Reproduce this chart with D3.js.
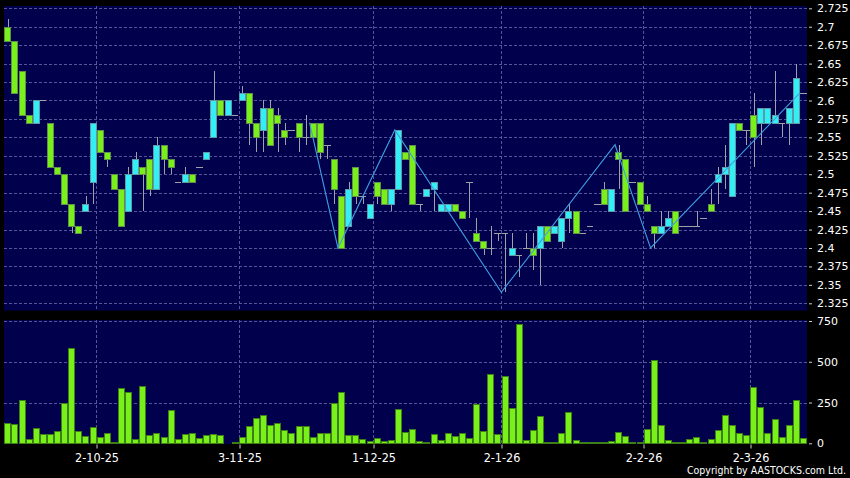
<!DOCTYPE html>
<html>
<head>
<meta charset="utf-8">
<script src="https://cdn.jsdelivr.net/npm/d3@7"></script>
<style>
  body { margin: 0; background: #000; }
  svg { display: block; }
</style>
</head>
<body>
<svg width="850" height="478"></svg>
<script>
// daily OHLC (oldest first)
const open = [2.70,2.68,2.64,2.58,2.57,2.60,2.57,2.51,2.50,2.46,
  2.43,2.45,2.49,2.56,2.53,2.50,2.48,2.45,2.50,2.51,
  2.52,2.48,2.54,2.52,2.49,2.49,2.50,2.51,2.52,2.55,
  2.60,2.58,2.58,2.60,2.61,2.57,2.56,2.59,2.58,2.56,
  2.56,2.57,2.55,2.57,2.57,2.54,2.52,2.47,2.43,2.51,
  2.47,2.44,2.49,2.48,2.46,2.48,2.53,2.54,2.46,2.47,
  2.48,2.45,2.45,2.46,2.45,2.49,2.42,2.41,2.40,2.42,
  2.42,2.39,2.39,2.40,2.40,2.40,2.43,2.42,2.41,2.44,
  2.45,2.42,2.43,2.46,2.48,2.45,2.53,2.52,2.49,2.49,
  2.46,2.43,2.42,2.43,2.45,2.43,2.43,2.43,2.44,2.46,
  2.49,2.50,2.47,2.57,2.56,2.58,2.57,2.57,2.57,2.57,
  2.57,2.57,2.61];
const high = [2.71,2.68,2.64,2.58,2.60,2.60,2.57,2.51,2.50,2.46,
  2.43,2.47,2.57,2.56,2.53,2.50,2.48,2.51,2.53,2.51,
  2.52,2.55,2.54,2.52,2.49,2.51,2.50,2.51,2.53,2.64,
  2.60,2.60,2.58,2.62,2.61,2.57,2.60,2.60,2.59,2.57,
  2.56,2.57,2.58,2.57,2.57,2.54,2.52,2.47,2.49,2.51,
  2.47,2.46,2.49,2.48,2.48,2.56,2.53,2.54,2.46,2.48,
  2.49,2.46,2.46,2.46,2.45,2.49,2.44,2.41,2.43,2.42,
  2.42,2.42,2.39,2.42,2.42,2.43,2.43,2.43,2.44,2.46,
  2.45,2.42,2.43,2.46,2.49,2.48,2.54,2.52,2.49,2.49,
  2.47,2.43,2.45,2.45,2.45,2.43,2.43,2.45,2.44,2.48,
  2.51,2.54,2.57,2.57,2.56,2.61,2.59,2.59,2.64,2.57,
  2.59,2.65,2.61];
const low = [2.68,2.61,2.58,2.57,2.57,2.60,2.51,2.50,2.46,2.42,
  2.42,2.45,2.46,2.53,2.51,2.48,2.43,2.45,2.50,2.45,
  2.47,2.48,2.50,2.50,2.49,2.49,2.49,2.51,2.52,2.55,
  2.58,2.58,2.58,2.60,2.54,2.53,2.53,2.54,2.53,2.54,
  2.56,2.53,2.54,2.55,2.52,2.52,2.46,2.40,2.43,2.46,
  2.46,2.44,2.46,2.46,2.45,2.48,2.52,2.46,2.45,2.47,
  2.45,2.45,2.45,2.45,2.44,2.44,2.41,2.39,2.39,2.41,
  2.34,2.39,2.36,2.40,2.37,2.35,2.41,2.42,2.40,2.42,
  2.42,2.42,2.43,2.46,2.46,2.45,2.48,2.45,2.49,2.46,
  2.45,2.40,2.42,2.43,2.42,2.43,2.43,2.43,2.44,2.45,
  2.46,2.48,2.47,2.56,2.54,2.51,2.54,2.57,2.57,2.55,
  2.54,2.57,2.61];
const close = [2.68,2.61,2.58,2.57,2.60,2.60,2.51,2.50,2.46,2.43,
  2.42,2.46,2.57,2.53,2.52,2.48,2.43,2.50,2.52,2.50,
  2.48,2.54,2.52,2.51,2.49,2.50,2.49,2.51,2.53,2.60,
  2.58,2.60,2.58,2.61,2.57,2.55,2.59,2.54,2.57,2.55,
  2.56,2.55,2.55,2.55,2.53,2.54,2.48,2.40,2.48,2.47,
  2.47,2.46,2.47,2.46,2.48,2.56,2.52,2.46,2.46,2.48,
  2.49,2.46,2.46,2.45,2.44,2.49,2.41,2.40,2.40,2.42,
  2.42,2.40,2.39,2.40,2.39,2.43,2.41,2.43,2.44,2.45,
  2.42,2.42,2.43,2.46,2.46,2.48,2.52,2.45,2.49,2.46,
  2.45,2.42,2.43,2.44,2.42,2.43,2.43,2.43,2.44,2.45,
  2.50,2.51,2.57,2.56,2.56,2.55,2.59,2.59,2.58,2.57,
  2.59,2.63,2.61];
const volume = [123,120,264,27,92,57,57,78,247,582,
  76,43,98,39,61,5,339,313,27,349,
  51,61,37,206,25,57,61,31,51,59,
  49,0,5,37,108,155,172,114,125,82,
  63,108,108,41,63,61,245,317,53,53,
  25,16,31,16,22,208,67,88,14,6,
  57,20,63,45,63,33,241,76,425,57,
  411,219,729,20,84,168,8,10,61,190,
  22,10,10,10,10,12,67,47,8,8,
  90,511,110,22,6,6,25,37,6,25,
  80,176,110,63,53,345,223,61,151,39,
  114,266,33];

// zigzag turning points: bar index and price
const zigIndex = [43, 47, 55, 70, 86, 91, 112];
const zigValue = [2.57, 2.40, 2.56, 2.34, 2.54, 2.40, 2.61];

const priceTicks = [2.325,2.35,2.375,2.4,2.425,2.45,2.475,2.5,2.525,2.55,2.575,2.6,2.625,2.65,2.675,2.7,2.725];
const volTicks = [0, 250, 500, 750];
const dateLabels = ["2-10-25", "3-11-25", "1-12-25", "2-1-26", "2-2-26", "2-3-26"];
const dateIndex = [13, 33, 52, 70, 90, 105];

const GREEN = "#7af01a";
const CYAN = "#33eef5";
const NAVY = "#00004c";
const GRID = "#55559a";
const WICK = "#a0a0a8";

const svg = d3.select("svg");
const n = close.length;

const x = d3.scaleBand()
  .domain(d3.range(n))
  .range([4.3, 806.6])
  .paddingInner(0.06)
  .paddingOuter(0);
const step = x.step();
const left = i => x(i) - (step - x.bandwidth()) / 2; // slot left edge
const mid = i => x(i) + x.bandwidth() / 2;

const y = d3.scaleLinear().domain([2.325, 2.725]).range([303.3, 8.3]);
const yv = d3.scaleLinear().domain([0, 750]).range([443.3, 321]);

// panels
svg.append("rect").attr("x", 0).attr("y", 0).attr("width", 850).attr("height", 478).attr("fill", "#000");
svg.append("rect").attr("x", 4).attr("y", 6).attr("width", 803).attr("height", 304.5).attr("fill", NAVY);
svg.append("rect").attr("x", 4).attr("y", 320).attr("width", 803).attr("height", 124).attr("fill", NAVY);

// grid
const grid = svg.append("g")
  .attr("stroke", GRID)
  .attr("stroke-dasharray", "3,2")
  .attr("shape-rendering", "crispEdges");

grid.selectAll(".hp").data(priceTicks).enter().append("line")
  .attr("x1", 4).attr("x2", 807)
  .attr("y1", d => Math.round(y(d)) + 0.5)
  .attr("y2", d => Math.round(y(d)) + 0.5);

grid.selectAll(".hv").data(volTicks.filter(d => d > 0)).enter().append("line")
  .attr("x1", 4).attr("x2", 807)
  .attr("y1", d => Math.round(yv(d)) + 0.5)
  .attr("y2", d => Math.round(yv(d)) + 0.5);

grid.selectAll(".vp").data(dateIndex).enter().append("line")
  .attr("x1", d => Math.round(left(d)) + 0.5)
  .attr("x2", d => Math.round(left(d)) + 0.5)
  .attr("y1", 6).attr("y2", 310);

grid.selectAll(".vv").data(dateIndex).enter().append("line")
  .attr("x1", d => Math.round(left(d)) + 0.5)
  .attr("x2", d => Math.round(left(d)) + 0.5)
  .attr("y1", 320).attr("y2", 444);

// candles
const bars = d3.range(n);
const cg = svg.append("g").attr("shape-rendering", "crispEdges");

cg.selectAll(".wick").data(bars.filter(i => high[i] > low[i])).enter().append("line")
  .attr("x1", i => Math.round(mid(i)) + 0.5)
  .attr("x2", i => Math.round(mid(i)) + 0.5)
  .attr("y1", i => y(high[i]))
  .attr("y2", i => y(low[i]))
  .attr("stroke", WICK);

cg.selectAll(".doji").data(bars.filter(i => open[i] === close[i])).enter().append("line")
  .attr("x1", i => x(i))
  .attr("x2", i => x(i) + x.bandwidth())
  .attr("y1", i => Math.round(y(close[i])) + 0.5)
  .attr("y2", i => Math.round(y(close[i])) + 0.5)
  .attr("stroke", WICK);

cg.selectAll(".body").data(bars.filter(i => open[i] !== close[i])).enter().append("rect")
  .attr("x", i => Math.round(x(i)) + 0.5)
  .attr("y", i => Math.round(y(Math.max(open[i], close[i]))) + 0.5)
  .attr("width", Math.round(x.bandwidth()) - 1)
  .attr("height", i => Math.round(y(Math.min(open[i], close[i]))) - Math.round(y(Math.max(open[i], close[i]))))
  .attr("fill", i => close[i] > open[i] ? CYAN : GREEN)
  .attr("stroke", i => close[i] > open[i] ? "#5d9aa8" : "#5f8f4a");

// zigzag
svg.append("path")
  .datum(zigIndex.map((d, k) => [d, zigValue[k]]))
  .attr("fill", "none")
  .attr("stroke", "#3f9de2")
  .attr("stroke-width", 1.1)
  .attr("d", d3.line().x(d => left(d[0])).y(d => y(d[1])));

// volume
svg.append("g").attr("shape-rendering", "crispEdges")
  .selectAll("rect").data(bars.filter(i => volume[i] > 0)).enter().append("rect")
  .attr("x", i => Math.round(x(i)) + 0.5)
  .attr("y", i => Math.round(yv(volume[i])) + 0.5)
  .attr("width", Math.round(x.bandwidth()) - 1)
  .attr("height", i => Math.max(1, Math.round(yv(0)) - Math.round(yv(volume[i]))))
  .attr("fill", GREEN)
  .attr("stroke", "#3e7e16");

// right axes
const fmt = d => String(d);
const priceAxis = svg.append("g")
  .attr("transform", "translate(809,0)")
  .call(d3.axisRight(y).tickValues(priceTicks).tickFormat(fmt).tickSize(3).tickPadding(5));
const volAxis = svg.append("g")
  .attr("transform", "translate(809,0)")
  .call(d3.axisRight(yv).tickValues(volTicks).tickFormat(fmt).tickSize(3).tickPadding(5));

// date axis
const dateAxis = svg.append("g")
  .attr("transform", "translate(0,444.5)")
  .call(d3.axisBottom(d3.scaleLinear().domain([0, 1]).range([0, 1]))
    .tickValues(dateIndex.map(d => Math.round(left(d)) + 0.5))
    .tickFormat((d, k) => dateLabels[k])
    .tickSize(4).tickPadding(5));

[priceAxis, volAxis, dateAxis].forEach(g => {
  g.select(".domain").remove();
  g.selectAll(".tick line").attr("stroke", "#cfcfcf");
  g.selectAll("text").attr("fill", "#fff");
});
priceAxis.selectAll("text").attr("font-family", "DejaVu Sans").attr("font-size", 11);
volAxis.selectAll("text").attr("font-family", "DejaVu Sans").attr("font-size", 11);
dateAxis.selectAll("text")
  .attr("font-family", "'DejaVu Sans Condensed', 'DejaVu Sans'")
  .attr("font-stretch", "condensed")
  .attr("font-size", 12.5);

svg.append("text")
  .attr("x", 846).attr("y", 474)
  .attr("text-anchor", "end")
  .attr("fill", "#fff")
  .attr("font-family", "'DejaVu Sans Condensed', 'DejaVu Sans'")
  .attr("font-size", 10.5)
  .attr("textLength", 159)
  .attr("lengthAdjust", "spacingAndGlyphs")
  .text("Copyright by AASTOCKS.com Ltd.");
</script>
</body>
</html>
